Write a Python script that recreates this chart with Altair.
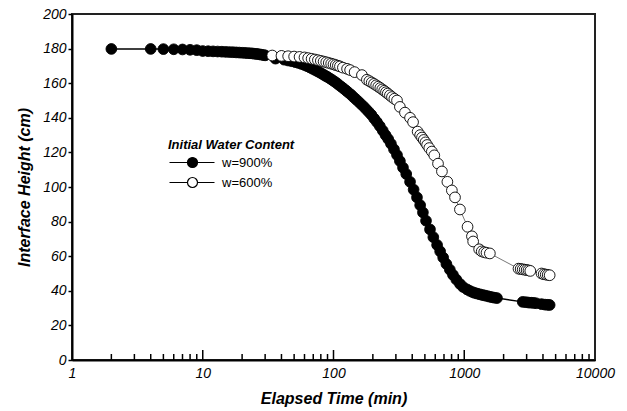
import altair as alt
import pandas as pd

# ---- data ----
series_names = ["w=900%", "w=600%"]

t_900 = [2, 4, 5, 6, 7, 8, 9, 10, 11, 12, 13, 14, 15, 16, 17, 18, 19, 20, 21, 22, 23, 24, 25, 26,
         27, 28, 29, 30, 36, 42, 45, 48, 51, 54, 57, 60, 63, 66, 69, 72, 75, 78, 81, 84, 87, 90,
         94, 98, 102, 106, 110, 115, 120, 125, 130, 136, 142, 148, 155, 162, 170, 178, 186, 195,
         205, 215, 226, 238, 250, 262, 275, 290, 306, 322, 340, 360, 385, 410, 435, 460, 483, 510,
         547, 580, 620, 654, 690, 730, 776, 820, 870, 927, 980, 1050, 1100, 1150, 1200, 1253, 1310,
         1370, 1430, 1494, 1560, 1630, 1700, 1780, 2800, 2960, 3100, 3250, 3400, 3550, 3900, 4150,
         4350, 4500]
h_900 = [179.8, 179.8, 179.7, 179.6, 179.5, 179.3, 179.1, 178.6, 178.5, 178.4, 178.3, 178.2, 178.1,
         178.0, 177.9, 177.8, 177.7, 177.6, 177.5, 177.4, 177.3, 177.2, 177.0, 176.9, 176.7, 176.5,
         176.3, 176.1, 174.2, 173.6, 173.1, 172.7, 172.2, 171.7, 171.1, 170.5, 169.8, 169.1, 168.4,
         167.7, 167.0, 166.3, 165.6, 164.9, 164.2, 163.6, 162.7, 161.8, 160.9, 160.0, 159.0, 157.9,
         156.8, 155.7, 154.6, 153.4, 152.0, 150.8, 149.4, 148.0, 146.5, 144.9, 143.4, 141.7, 139.5,
         137.5, 135.2, 132.6, 130.0, 127.7, 125.0, 121.8, 118.5, 115.0, 111.2, 107.5, 103.0, 98.5,
         94.0, 89.5, 85.3, 80.5, 75.5, 71.0, 66.5, 62.8, 59.2, 55.5, 52.2, 49.2, 46.5, 44.0, 42.2,
         40.8, 40.0, 39.3, 38.8, 38.4, 38.0, 37.6, 37.3, 37.0, 36.6, 36.3, 36.0, 35.8, 33.6, 33.4,
         33.2, 33.1, 33.0, 32.8, 32.3, 32.0, 31.9, 31.8]

t_600 = [34, 40, 45, 50, 55, 60, 64, 68, 72, 76, 80, 84, 88, 92, 96, 100, 104, 108, 112, 118, 127,
         134, 145, 165, 180, 188, 196, 204, 212, 220, 228, 236, 244, 252, 260, 270, 280, 292, 306,
         322, 352, 385, 406, 440, 460, 475, 490, 505, 520, 540, 565, 590, 630, 675, 743, 804, 850,
         927, 1060, 1145, 1170, 1300, 1360, 1420, 1480, 1570, 2600, 2700, 2800, 2900, 3000, 3100,
         3200, 3900, 4050, 4200, 4350, 4500]
h_600 = [176.0, 175.8, 175.6, 175.4, 175.2, 174.9, 174.5, 174.1, 173.7, 173.3, 172.9, 172.5, 172.1,
         171.7, 171.3, 170.9, 170.5, 170.1, 169.7, 169.0, 168.3, 167.6, 166.4, 164.7, 162.0, 161.2,
         160.4, 159.6, 158.8, 158.0, 157.2, 156.4, 155.6, 154.8, 154.0, 153.0, 152.0, 151.0, 150.0,
         146.3, 143.0, 140.0, 137.5, 132.0, 130.0, 128.6, 127.2, 125.8, 124.3, 122.5, 120.5, 118.3,
         113.5, 109.0, 103.0, 98.0, 94.0, 87.0, 77.0, 71.5, 68.5, 64.0, 62.8, 62.3, 62.0, 61.6, 52.8,
         52.6, 52.4, 52.2, 52.0, 51.8, 51.5, 50.0, 49.6, 49.4, 49.2, 49.0]

x_label_values = [1, 10, 100, 1000, 10000]
x_major_ticks = [10, 100, 1000]
x_minor_ticks = [2, 3, 4, 5, 6, 7, 8, 9, 20, 30, 40, 50, 60, 70, 80, 90,
                 200, 300, 400, 500, 600, 700, 800, 900, 2000, 3000, 4000, 5000, 6000, 7000, 8000, 9000]
y_tick_values = [0, 20, 40, 60, 80, 100, 120, 140, 160, 180, 200]

# ---- tables ----
df900 = pd.DataFrame({"t": t_900, "h": h_900, "series": series_names[0]})
df600 = pd.DataFrame({"t": t_600, "h": h_600, "series": series_names[1]})
df_all = pd.concat([df900, df600], ignore_index=True)
df_major = pd.DataFrame({"t": x_major_ticks})
df_minor = pd.DataFrame({"t": x_minor_ticks})

W, H = 523, 346
FONT = "Liberation Sans"

xscale = alt.Scale(type="log", domain=[1, 10000])
yscale = alt.Scale(domain=[0, 200])

x_axis = alt.Axis(values=x_label_values, format="d", title="Elapsed Time (min)", ticks=False,
                  grid=False, labelFlush=False, labelPadding=6, titlePadding=10,
                  domainColor="black", domainWidth=2)
y_axis = alt.Axis(values=y_tick_values, title="Interface Height (cm)", tickSize=4, tickWidth=1.5,
                  tickColor="black", grid=False, labelFlush=False, labelPadding=2, titlePadding=10,
                  domainColor="black", domainWidth=2)


def xenc():
    return alt.X("t:Q", scale=xscale, axis=x_axis)


def yenc():
    return alt.Y("h:Q", scale=yscale, axis=y_axis)


legend_path = "M-1,0L2.6,0M2.6,0A1,1 0 1,1 4.6,0A1,1 0 1,1 2.6,0M4.6,0L8,0"

line900 = alt.Chart(df900).mark_line(color="black", strokeWidth=1.5).encode(x=xenc(), y=yenc())
line600 = alt.Chart(df600).mark_line(color="#555555", strokeWidth=0.8).encode(x=xenc(), y=yenc())

points = alt.Chart(df_all).mark_point(filled=True, size=115, stroke="black", strokeWidth=0.9,
                                      opacity=1).encode(
    x=xenc(),
    y=yenc(),
    fill=alt.Fill("series:N", scale=alt.Scale(domain=series_names, range=["black", "white"]),
                  legend=alt.Legend(title="Initial Water Content", orient="none",
                                    legendX=96, legendY=125, symbolType=legend_path,
                                    symbolSize=100, symbolStrokeColor="black",
                                    symbolStrokeWidth=1.2, symbolOpacity=1, labelOffset=41,
                                    padding=0, titlePadding=4, rowPadding=5,
                                    titleFont=FONT, titleFontSize=13, titleFontStyle="italic",
                                    titleFontWeight="bold", titleColor="black",
                                    labelFont=FONT, labelFontSize=13, labelColor="black")),
)

rule_major = alt.Chart(df_major).mark_rule(color="black", strokeWidth=1.5).encode(
    x=xenc(), y=alt.value(H), y2=alt.value(H - 10))
rule_minor = alt.Chart(df_minor).mark_rule(color="black", strokeWidth=1.5).encode(
    x=xenc(), y=alt.value(H), y2=alt.value(H - 6))

chart = alt.layer(line900, line600, rule_minor, rule_major, points).properties(
    width=W, height=H,
    autosize=alt.AutoSizeParams(type="none"),
    padding={"left": 72, "top": 14, "right": 32, "bottom": 51},
    background="white",
).configure_view(
    stroke="#222222", strokeWidth=2
).configure_axis(
    labelFont=FONT, labelFontSize=14, labelFontStyle="italic", labelColor="black",
    titleFont=FONT, titleFontSize=16, titleFontStyle="italic", titleFontWeight="bold",
    titleColor="black",
)

chart.save("out.html", embed_options={"renderer": "svg", "actions": False})
